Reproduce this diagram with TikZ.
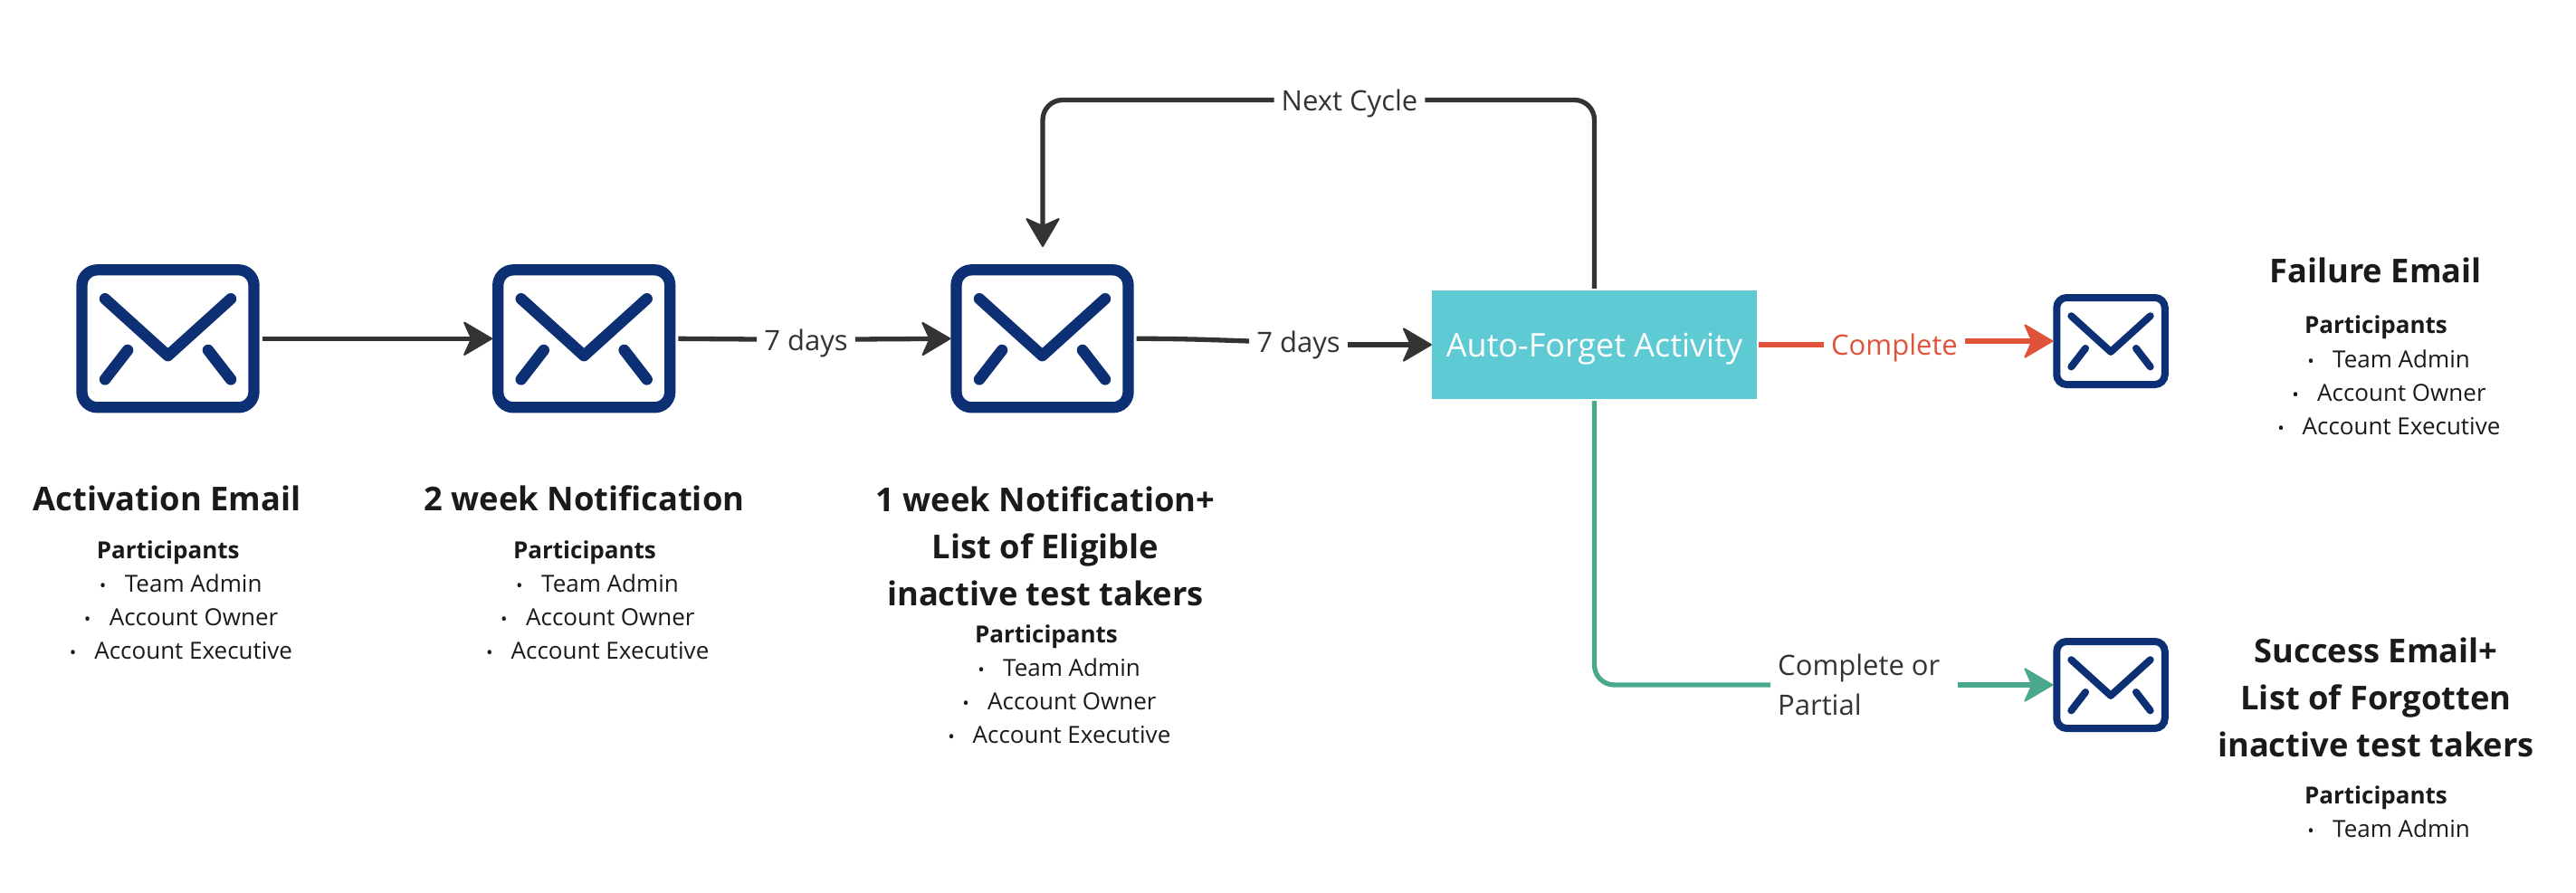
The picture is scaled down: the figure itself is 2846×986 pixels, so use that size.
\documentclass[tikz,border=0pt]{standalone}
\usepackage{fontspec}
\setmainfont{Open Sans}
\usetikzlibrary{arrows.meta}
\definecolor{mailblue}{HTML}{0D2F74}
\definecolor{linedark}{HTML}{333333}
\definecolor{inkdark}{HTML}{1A1A1A}
\definecolor{boxteal}{HTML}{5ECAD3}
\definecolor{redline}{HTML}{E0533A}
\definecolor{greenline}{HTML}{4AA88C}
\tikzset{
  mailbig/.style={draw=mailblue,fill=white,line width=12.3pt,rounded corners=17pt,inner sep=0pt,minimum width=190pt,minimum height=152pt},
  mailsmall/.style={draw=mailblue,fill=white,line width=8pt,rounded corners=11pt,inner sep=0pt,minimum width=119.5pt,minimum height=96pt},
  flapstroke/.style={draw=mailblue,line cap=round,line join=round},
  conn/.style={line width=5.3pt,draw=linedark},
  tipped/.style={-{Stealth[length=34pt,width=40pt,inset=9pt,round,line width=2pt]}},
  lab/.style={inner ysep=0pt,inner xsep=8pt,text height=24pt,text depth=0pt,text=linedark,font=\fontsize{31}{36}\selectfont},
  headtext/.style={anchor=base,align=center,text=inkdark,inner sep=0pt,font=\fontsize{36.3}{52}\selectfont\bfseries},
  parthead/.style={anchor=base,text=inkdark,inner sep=0pt,font=\fontsize{26}{36}\selectfont\bfseries},
  listtext/.style={anchor=base west,text=inkdark,inner sep=0pt,font=\fontsize{26}{36}\selectfont},
  dotmark/.style={anchor=base,text=inkdark,inner sep=0pt,font=\fontsize{20}{22}\selectfont},
}
% envelope flap strokes, drawn inside a named icon node
\newcommand{\flaps}[4]{% node, width, height, stroke
  \begin{scope}[shift={(#1.center)},x=#2pt,y=-#3pt]
    \draw[flapstroke,line width=#4pt] (-0.344,-0.267) -- (0,0.114) -- (0.344,-0.267);
    \draw[flapstroke,line width=#4pt] (-0.22,0.077) -- (-0.344,0.273);
    \draw[flapstroke,line width=#4pt] (0.22,0.077) -- (0.344,0.273);
  \end{scope}}
% Team Admin only
\newcommand{\listone}[3]{%
  \node[parthead] (#1p) at (#2,#3) {Participants};
  \node[dotmark] (#1d) at (#2-72,#3+37.5) {•};
  \node[listtext] (#1a) at (#2-48,#3+37.5) {Team Admin};}
% full list
\newcommand{\listall}[3]{%
  \listone{#1}{#2}{#3}
  \node[dotmark] (#1e) at (#2-89,#3+74.5) {•};
  \node[listtext] (#1b) at (#2-65,#3+74.5) {Account Owner};
  \node[dotmark] (#1f) at (#2-105,#3+111.5) {•};
  \node[listtext] (#1c) at (#2-81.5,#3+111.5) {Account Executive};}
\begin{document}
\begin{tikzpicture}[x=1pt,y=-1pt]
\useasboundingbox (0,0) rectangle (2846,986);
% icons
\node[mailbig] (mail1) at (185.5,374.3) {};
\node[mailbig] (mail2) at (645.2,374.3) {};
\node[mailbig] (mail3) at (1151.5,374.3) {};
\node[mailsmall] (mailf) at (2332,377) {};
\node[mailsmall] (mails) at (2332,757) {};
\flaps{mail1}{202}{165}{12.5}
\flaps{mail2}{202}{165}{12.5}
\flaps{mail3}{202}{165}{12.5}
\flaps{mailf}{127}{104}{8}
\flaps{mails}{127}{104}{8}
% activity box
\node[fill=boxteal,inner sep=0pt,minimum width=359pt,minimum height=120pt,text=white,text height=26pt,text depth=0pt,font=\fontsize{36}{40}\selectfont] (box) at (1761.5,381) {Auto-Forget Activity};
% connector labels
\node[lab] (days1) at (890.5,375) {7 days};
\node[lab] (days2) at (1434.5,377) {7 days};
\node[lab] (cycle) at (1491,110.5) {Next Cycle};
\node[lab,text=redline] (done) at (2093,380.5) {Complete};
\node[anchor=base west,inner ysep=0pt,inner xsep=8pt,align=left,text=linedark,font=\fontsize{31}{43.4}\selectfont] (both) at (1956,790) {Complete or\\Partial};
\coordinate (loopend) at (1152,273);
% connectors
\draw[conn,tipped,shorten <=3pt] (mail1.east) -- (mail2.west);
\draw[conn,shorten <=3pt] (mail2.east) -- (days1.west);
\draw[conn,tipped] (days1.east) -- (mail3.west);
\draw[conn,shorten <=3pt] (mail3.east) to[out=0,in=178] (days2.west);
\draw[conn,tipped] (days2.east |- box.west) -- (box.west);
\draw[conn,rounded corners=22pt,shorten <=2pt] (box.north) |- (cycle.east);
\draw[conn,tipped,rounded corners=22pt] (cycle.west) -| (loopend);
\draw[conn,draw=redline,shorten <=2pt] (box.east) -- (done.west |- box.east);
\draw[conn,draw=redline,tipped] (done.east |- mailf.west) -- (mailf.west);
\draw[conn,draw=greenline,rounded corners=22pt,shorten <=2pt] (box.south) |- (both.west |- mails.west);
\draw[conn,draw=greenline,tipped,shorten <=11pt] (both.east |- mails.west) -- (mails.west);
% captions
\node[headtext] (head1) at (184.5,564.5) {Activation Email};
\listall{a}{185.7}{617}
\node[headtext] (head2) at (645.5,564.5) {2 week Notification};
\listall{b}{646}{617}
\node[headtext] (head3) at (1155,669.5) {1 week Notification+\\List of Eligible\\inactive test takers};
\listall{c}{1156}{710}
\node[headtext] (head4) at (2624.5,312.7) {Failure Email};
\listall{d}{2625}{368.5}
\node[headtext] (head5) at (2625,836) {Success Email+\\List of Forgotten\\inactive test takers};
\listone{e}{2625}{888}
\end{tikzpicture}
\end{document}
